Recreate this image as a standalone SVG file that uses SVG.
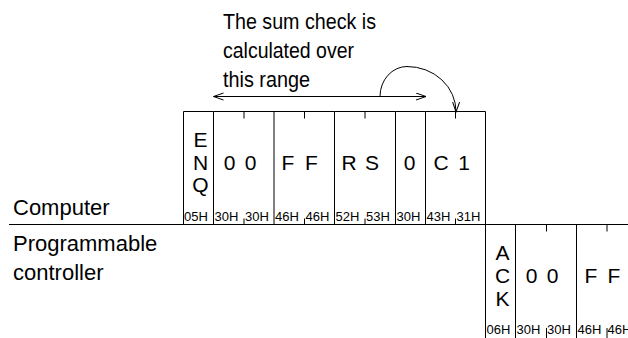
<svg xmlns="http://www.w3.org/2000/svg" width="628" height="338" viewBox="0 0 628 338">
<style>
.ln{stroke:#000;stroke-width:1;fill:none}
.big{font-family:"Liberation Sans",Arial,sans-serif;font-size:21px;fill:#000;text-anchor:middle}
.lbl{font-family:"Liberation Sans",Arial,sans-serif;font-size:22px;fill:#000}
.note{font-family:"Liberation Sans",Arial,sans-serif;font-size:21.5px;fill:#000}
.hex{font-family:"Liberation Sans",Arial,sans-serif;font-size:13px;fill:#000}
</style>
<defs>
<marker id="arr" markerWidth="11" markerHeight="9" refX="10" refY="4" orient="auto-start-reverse" markerUnits="userSpaceOnUse">
<path d="M0,0.5 L10,4 L0,7.5" fill="none" stroke="#000" stroke-width="1"/>
</marker>
</defs>
<rect width="628" height="338" fill="#fff"/>

<g id="label-computer"><text class="lbl" x="13" y="214.5">Computer</text></g>
<g id="label-plc"><text class="lbl" x="13" y="250.5">Programmable</text><text class="lbl" x="13" y="280">controller</text></g>
<g id="note"><text class="note" x="223" y="28.5" textLength="153" lengthAdjust="spacingAndGlyphs">The sum check is</text><text class="note" x="223" y="57.5" textLength="131" lengthAdjust="spacingAndGlyphs">calculated over</text><text class="note" x="223" y="86.5" textLength="87" lengthAdjust="spacingAndGlyphs">this range</text></g>

<g id="frame-enq">
<path class="ln" d="M183.5,224.5 V111.5 H213.5 V224.5"/>
<text class="big" x="200.5" y="146.5">E</text><text class="big" x="200.5" y="169.5">N</text><text class="big" x="200.5" y="192">Q</text>
<text class="hex" x="184" y="221">05H</text>
</g>
<g id="frame-00">
<path class="ln" d="M213.5,111.5 H274 V224.5 M244,111.5 V118.5 M244,224.5 V218.5"/>
<text class="big" x="229.5" y="169.5">0</text><text class="big" x="250.5" y="169.5">0</text>
<text class="hex" x="214.5" y="221">30H</text><text class="hex" x="245" y="221">30H</text>
</g>
<g id="frame-ff">
<path class="ln" d="M274,111.5 H334.5 V224.5 M304.5,111.5 V118.5 M304.5,224.5 V218.5"/>
<text class="big" x="288" y="169.5">F</text><text class="big" x="311.5" y="169.5">F</text>
<text class="hex" x="275" y="221">46H</text><text class="hex" x="305.5" y="221">46H</text>
</g>
<g id="frame-rs">
<path class="ln" d="M334.5,111.5 H395.5 V224.5 M365,111.5 V118.5 M365,224.5 V218.5"/>
<text class="big" x="349" y="169.5">R</text><text class="big" x="372" y="169.5">S</text>
<text class="hex" x="335.5" y="221">52H</text><text class="hex" x="366" y="221">53H</text>
</g>
<g id="frame-0">
<path class="ln" d="M395.5,111.5 H425.5 V224.5"/>
<text class="big" x="409.5" y="169.5">0</text>
<text class="hex" x="396.5" y="221">30H</text>
</g>
<g id="frame-c1">
<path class="ln" d="M425.5,111.5 H485.5 V224.5 M455.5,111.5 V118.5 M455.5,224.5 V218.5"/>
<text class="big" x="441" y="169.5">C</text><text class="big" x="464" y="169.5">1</text>
<text class="hex" x="426.5" y="221">43H</text><text class="hex" x="456.5" y="221">31H</text>
</g>

<g id="frame-ack">
<path class="ln" d="M485.5,224.5 V338 M515.5,224.5 V338"/>
<text class="big" x="502.5" y="259.5">A</text><text class="big" x="502.5" y="282.5">C</text><text class="big" x="502.5" y="305.5">K</text>
<text class="hex" x="486.5" y="333.5">06H</text>
</g>
<g id="frame-00b">
<path class="ln" d="M576.5,224.5 V338 M546.5,224.5 V231.5 M546.5,338 V328"/>
<text class="big" x="531.5" y="282.5">0</text><text class="big" x="552.5" y="282.5">0</text>
<text class="hex" x="516.5" y="333.5">30H</text><text class="hex" x="547" y="333.5">30H</text>
</g>
<g id="frame-ffb">
<path class="ln" d="M607,224.5 V231.5 M607,338 V328"/>
<text class="big" x="591" y="282.5">F</text><text class="big" x="614" y="282.5">F</text>
<text class="hex" x="577.5" y="333.5">46H</text><text class="hex" x="607.5" y="333.5">46H</text>
</g>

<g id="connectors">
<path class="ln" d="M9,224.5 H628"/>
<path class="ln" d="M213.5,96.5 H426" marker-start="url(#arr)" marker-end="url(#arr)"/>
<path class="ln" d="M380,96.5 A27,30 0 0 1 407,66.5 A49,45 0 0 1 456,112" marker-end="url(#arr)"/>
</g>
</svg>
